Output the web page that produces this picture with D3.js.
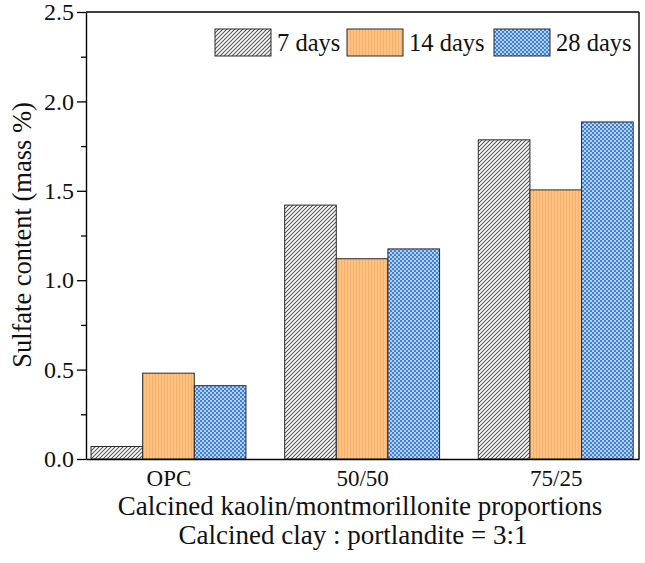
<!DOCTYPE html>
<html>
<head>
<meta charset="utf-8">
<script src="https://cdn.jsdelivr.net/npm/d3@7/dist/d3.min.js"></script>
<style>
  body { margin: 0; background: #fff; }
  svg { display: block; }
  svg text { font-family: "Liberation Serif", "Times New Roman", serif; fill: #111; }
</style>
</head>
<body>
<svg id="chart" width="645" height="563"></svg>
<script>
// data
var categories = ["OPC", "50/50", "75/25"];
var seriesNames = ["7 days", "14 days", "28 days"];
var days7 = [0.07, 1.42, 1.785];
var days14 = [0.48, 1.12, 1.505];
var days28 = [0.41, 1.175, 1.885];
var yTicks = [0, 0.5, 1.0, 1.5, 2.0, 2.5];
var yMinor = [0.25, 0.75, 1.25, 1.75, 2.25];

var series = [days7, days14, days28];
var serif = "'Liberation Serif', 'Times New Roman', serif";

var svg = d3.select("#chart"),
    margin = {top: 12, right: 6, bottom: 104, left: 86},
    width = +svg.attr("width") - margin.left - margin.right,
    height = +svg.attr("height") - margin.top - margin.bottom;

// patterns for the three series
var defs = svg.append("defs");

var p1 = defs.append("pattern").attr("id", "hatch")
    .attr("patternUnits", "userSpaceOnUse").attr("width", 4).attr("height", 4);
p1.append("rect").attr("width", 4).attr("height", 4).attr("fill", "#fff");
p1.append("path").attr("d", "M-1,1 l2,-2 M0,4 l4,-4 M3,5 l2,-2")
    .attr("stroke", "#555").attr("stroke-width", 1.1);

var p2 = defs.append("pattern").attr("id", "vlines")
    .attr("patternUnits", "userSpaceOnUse").attr("width", 3).attr("height", 4);
p2.append("rect").attr("width", 3).attr("height", 4).attr("fill", "#fdc282");
p2.append("rect").attr("x", 0).attr("width", 1).attr("height", 4).attr("fill", "#f6b26c");

var p3 = defs.append("pattern").attr("id", "dots")
    .attr("patternUnits", "userSpaceOnUse").attr("width", 4).attr("height", 4);
p3.append("rect").attr("width", 4).attr("height", 4).attr("fill", "#3d80e4");
p3.append("circle").attr("cx", 1).attr("cy", 1).attr("r", 0.95).attr("fill", "#eaf2ff");
p3.append("circle").attr("cx", 3).attr("cy", 3).attr("r", 0.95).attr("fill", "#eaf2ff");

var fills = ["url(#hatch)", "url(#vlines)", "url(#dots)"];

var g = svg.append("g")
    .attr("transform", "translate(" + margin.left + "," + margin.top + ")");

var x = d3.scaleLinear().domain([0.574, 3.43]).range([0, width]);
var y = d3.scaleLinear().domain([0, 2.5]).range([height, 0]);
var barW = 0.8 / 3;

// bars
series.forEach(function(vals, si) {
    g.selectAll(".bar" + si)
        .data(vals)
        .enter().append("rect")
        .attr("class", "bar" + si)
        .attr("x", function(d, i) { return x(i + 1 - 0.4 + si * barW); })
        .attr("width", x(barW) - x(0))
        .attr("y", function(d) { return y(d); })
        .attr("height", function(d) { return height - y(d); })
        .attr("fill", fills[si])
        .attr("stroke", "#2a2a2a")
        .attr("stroke-width", 1);
});

// frame lines top / right
g.append("line").attr("x1", 0).attr("x2", width).attr("y1", 0).attr("y2", 0)
    .attr("stroke", "#000").attr("stroke-width", 1.4);
g.append("line").attr("x1", width).attr("x2", width).attr("y1", 0).attr("y2", height)
    .attr("stroke", "#000").attr("stroke-width", 1.4);

// y axis minor
g.append("g")
    .call(d3.axisLeft(y).tickValues(yMinor).tickSize(5).tickFormat("").tickSizeOuter(0))
    .call(function(a) { a.select(".domain").remove(); a.selectAll("line").attr("stroke-width", 1.3); });

// y axis major
var yAx = g.append("g")
    .call(d3.axisLeft(y).tickValues(yTicks).tickSize(9).tickSizeOuter(0).tickPadding(3)
        .tickFormat(d3.format(".1f")));
yAx.attr("font-family", serif);
yAx.select(".domain").attr("stroke-width", 1.4);
yAx.selectAll("line").attr("stroke-width", 1.3);
yAx.selectAll("text").style("font-size", "24px").attr("fill", "#111");

// x axis
var xAx = g.append("g")
    .attr("transform", "translate(0," + height + ")")
    .call(d3.axisBottom(x).tickValues([1, 2, 3]).tickSize(0).tickSizeOuter(0).tickPadding(11)
        .tickFormat(function(d) { return categories[d - 1]; }));
xAx.attr("font-family", serif);
xAx.select(".domain").attr("stroke-width", 1.4);
xAx.selectAll("text").style("font-size", "23px").attr("fill", "#111");

// axis titles
svg.append("text")
    .attr("transform", "translate(31,235) rotate(-90)")
    .attr("text-anchor", "middle")
    .style("font-size", "26.5px")
    .text("Sulfate content (mass %)");

svg.append("text")
    .attr("x", 360)
    .attr("y", 515)
    .attr("text-anchor", "middle")
    .style("font-size", "27px")
    .text("Calcined kaolin/montmorillonite proportions");

svg.append("text")
    .attr("x", 353)
    .attr("y", 544)
    .attr("text-anchor", "middle")
    .style("font-size", "27px")
    .text("Calcined clay : portlandite = 3:1");

// legend
var legX = [215, 347, 494];
var legend = g.selectAll(".legend")
    .data(seriesNames)
    .enter().append("g")
    .attr("class", "legend")
    .attr("transform", function(d, i) { return "translate(" + (legX[i] - margin.left) + "," + (29 - margin.top) + ")"; });

legend.append("rect")
    .attr("width", 56).attr("height", 27)
    .attr("fill", function(d, i) { return fills[i]; })
    .attr("stroke", "#2a2a2a").attr("stroke-width", 1);

legend.append("text")
    .attr("x", 62).attr("y", 22)
    .style("font-size", "24.5px")
    .text(function(d) { return d; });
</script>
</body>
</html>
